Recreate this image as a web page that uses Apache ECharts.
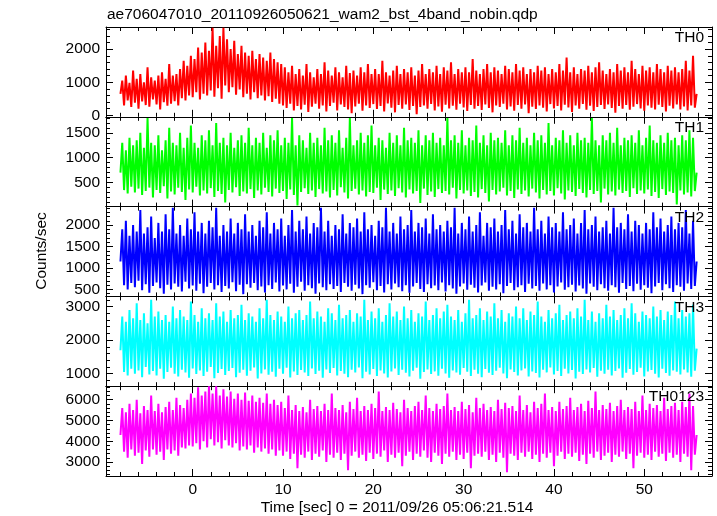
<!DOCTYPE html>
<html>
<head>
<meta charset="utf-8">
<script src="https://cdn.jsdelivr.net/npm/echarts@6/dist/echarts.min.js"></script>
<style>
html,body{margin:0;padding:0;background:#fff;}
#chart{width:717px;height:516px;}
</style>
</head>
<body>
<div id="chart"></div>
<script>
// ---- data ----
const TITLE = 'ae706047010_20110926050621_wam2_bst_4band_nobin.qdp';
const X_NAME = 'Time [sec] 0 = 2011/09/26 05:06:21.514';
const Y_NAME = 'Counts/sec';
const PANEL_NAMES = ['TH0', 'TH1', 'TH2', 'TH3', 'TH0123'];
const T_START = -8.0;   // first sample time [s]
const T_STEP = 0.2;     // sample spacing [s]

const TH0 = [
650,1050,300,1200,450,980,250,1350,380,1100,
200,1250,420,1000,310,1450,260,1150,480,1050,
330,1200,180,1300,400,1100,290,1550,350,1200,
430,1250,300,1400,520,1650,450,1500,600,1800,
550,1700,700,2050,480,1900,650,2200,600,1950,
750,2650,560,2100,820,2400,500,2650,900,2300,
700,2000,850,2250,620,1850,780,2100,550,1900,
650,1800,480,1950,700,1700,520,1850,600,1750,
450,1650,580,1900,400,1700,500,1600,350,1550,
300,1450,220,1300,350,1500,150,1250,280,1400,
180,1200,320,1550,100,1300,260,1150,350,1400,
200,1250,300,1600,120,1350,280,1200,380,1450,
150,1300,330,1150,250,1500,180,1280,60,1350,
270,1200,350,1450,140,1300,300,1550,220,1250,
340,1400,190,1250,280,1650,120,1300,360,1200,
230,1350,90,1500,310,1250,200,1400,330,1300,
160,1450,280,1200,30,1350,250,1550,300,1250,
200,1400,340,1300,150,1500,270,1250,110,1450,
320,1350,210,1600,290,1250,170,1400,350,1300,
240,1450,130,1300,310,1700,200,1350,280,1250,
160,1400,330,1550,220,1300,90,1450,300,1350,
250,1250,350,1500,180,1400,270,1300,140,1550,
310,1350,200,1450,330,1250,60,1400,260,1300,
190,1500,300,1350,230,1450,120,1250,340,1400,
210,1300,280,1550,150,1350,320,1750,240,1300,
100,1450,300,1250,200,1400,340,1350,170,1500,
290,1300,130,1450,250,1600,310,1350,190,1250,
330,1400,220,1300,80,1550,280,1350,200,1450,
310,1300,170,1650,260,1400,340,1250,210,1500,
140,1350,300,1450,230,1300,180,1550,320,1400,
250,1300,120,1500,290,1350,210,1450,330,1300,
180,1400,270,1650,150,1350,300,1800,230,650
];
const TH1 = [
700,1300,350,1150,280,1400,420,1250,300,1350,
380,1500,250,1200,330,1800,400,1300,200,1250,
350,1450,290,1150,430,1350,180,1600,320,1300,
260,1250,400,1500,310,1200,150,1400,360,1650,
300,1300,420,1200,240,1450,340,1350,280,1550,
390,1250,210,1700,330,1300,270,1400,100,1250,
350,1500,300,1200,410,1350,230,1450,320,1300,
280,1600,370,1250,190,1400,340,1300,260,1500,
400,1200,310,1450,220,1350,380,1550,290,1250,
330,1400,170,1300,360,1800,250,1250,40,1450,
310,1350,390,1200,270,1500,340,1300,210,1400,
370,1250,280,1600,320,1350,200,1450,350,1300,
240,1550,410,1200,300,1400,180,1800,330,1250,
380,1350,260,1500,340,1300,220,1450,310,1650,
290,1250,400,1400,150,1350,360,1200,270,1500,
340,1300,230,1450,390,1250,300,1600,200,1350,
360,1400,280,1300,330,1550,90,1250,380,1450,
250,1350,320,1500,210,1300,370,1400,290,1250,
330,1800,260,1350,400,1450,180,1300,350,1550,
280,1250,340,1400,230,1350,310,1650,200,1300,
370,1450,290,1250,120,1500,350,1350,260,1400,
320,1300,400,1550,240,1250,330,1450,190,1350,
360,1600,270,1300,340,1400,220,1250,380,1500,
300,1350,180,1450,350,1300,260,1700,330,1250,
240,1400,390,1350,280,1550,160,1300,340,1450,
310,1250,230,1500,370,1350,290,1400,200,1300,
350,1800,270,1350,330,1250,100,1450,380,1350,
260,1500,320,1300,240,1600,360,1250,290,1400,
330,1350,210,1450,390,1300,270,1550,340,1250,
280,1400,360,1650,230,1350,310,1300,190,1450,
370,1300,250,1500,320,1350,290,1400,60,1250,
340,1450,260,1350,300,1550,220,1400,330,700
];
const TH2 = [
1150,1900,600,2100,500,1750,650,2000,550,1850,
700,2350,480,1800,620,1950,420,2200,580,1700,
660,2050,530,1850,400,2250,610,1900,500,2400,
640,1800,560,2000,450,1750,680,2150,520,1900,
590,2300,470,1850,630,2050,410,1800,560,2100,
650,1950,500,2400,600,1750,440,2000,580,1850,
520,2150,670,1800,460,2050,610,1900,390,2250,
620,1850,540,2000,650,1750,480,2100,570,1950,
430,2300,600,1800,510,2050,660,1900,450,2150,
590,1750,500,2000,630,2350,420,1850,560,2100,
680,1900,470,2200,600,1800,530,2050,400,1950,
640,2400,550,1850,480,2100,620,1750,510,2000,
580,1900,440,2250,650,1800,560,2050,470,1950,
610,2150,520,1850,390,2300,600,1900,540,2000,
670,1750,480,2100,580,1950,430,2400,620,1850,
500,2050,640,1800,550,2200,460,1900,600,2000,
420,2350,570,1850,650,2050,510,1950,440,2150,
620,1800,530,2250,590,1900,480,2000,660,1850,
450,2100,600,1950,520,2400,400,1800,570,2050,
640,1900,490,2200,610,1850,540,2000,430,2300,
590,1750,660,2050,470,1950,560,2150,500,1850,
620,2000,410,2350,580,1900,650,2100,480,1800,
550,2250,600,1950,440,2050,630,1850,520,2400,
580,1900,470,2100,640,1800,500,2200,600,1950,
430,2050,570,1850,660,2300,490,1900,550,2000,
610,2150,450,1800,590,2050,520,2350,400,1900,
640,2000,560,2200,480,1850,620,1950,530,2100,
470,1800,600,2400,550,1950,420,2050,650,1900,
510,2250,580,1850,460,2100,630,2000,490,1800,
600,2050,540,1900,410,2300,570,1950,650,2150,
480,1850,620,2000,530,2200,440,1900,600,2050,
560,1950,470,2350,640,1800,510,2100,580,1150
];
const TH3 = [
1700,2700,1050,2550,950,2900,1150,2650,1000,3100,
1100,2600,900,2800,1200,2500,980,3200,1080,2700,
950,2850,1150,2600,850,2750,1050,2550,1180,3000,
1000,2650,920,2900,1120,2700,1040,2600,880,3150,
1160,2750,990,2550,1100,2950,930,2650,1060,2800,
1200,2600,870,3100,1020,2700,1140,2850,960,2550,
1080,2900,1170,2650,900,2750,1030,3050,1120,2600,
940,2800,1090,2700,1190,2550,860,2950,1010,2650,
1130,3200,970,2750,1060,2600,910,2850,1150,2700,
1000,2550,1180,3000,890,2650,1070,2800,960,2900,
1110,2600,1040,2750,930,3150,1160,2650,990,2850,
1090,2700,880,2550,1130,2950,1020,2800,1170,2600,
950,3050,1080,2650,1000,2750,900,2900,1120,2550,
1040,2800,1190,2700,870,3200,1060,2600,980,2850,
1140,2650,930,2950,1100,2550,1010,2750,890,3100,
1070,2700,1160,2850,960,2600,1120,3000,1030,2650,
920,2900,1090,2550,1180,2800,850,2700,1050,3150,
1130,2600,990,2750,1070,2950,940,2650,1150,2850,
1010,3050,880,2700,1100,2600,1040,2900,970,2550,
1170,2800,1060,3200,930,2650,1120,2750,1000,2950,
900,2600,1140,2850,1030,2700,960,3100,1090,2650,
1180,2900,1010,2550,870,2800,1130,2700,1050,3000,
950,2650,1100,2950,1160,2600,920,2850,1070,2750,
1020,3150,890,2700,1120,2550,1040,2900,1190,2650,
980,2800,1080,3050,930,2600,1150,2750,1010,2850,
1110,2650,860,2950,1060,2700,990,3200,1130,2600,
1040,2850,1170,2550,910,2800,1090,2650,1000,3050,
1120,2700,950,2900,1080,2600,1160,2750,880,2950,
1030,2650,1140,3100,970,2800,1050,2550,1180,2850,
920,2750,1070,2650,1110,3000,1000,2700,890,2900,
1150,2600,1020,2850,940,2750,1100,3150,1060,2650,
980,2900,1130,2700,1040,2800,910,3050,1090,1750
];
const TH0123 = [
4300,5600,3500,5400,3200,5800,3600,5500,3300,6000,
3450,5350,2900,5700,3550,5500,3250,6200,3600,5450,
3350,5800,3500,5400,3100,5650,3600,5900,3400,5500,
3550,6100,3300,5750,3700,5600,3650,6000,3800,6300,
3750,6100,3900,6600,3600,6200,4000,6400,3700,6650,
4100,6300,3800,6650,3950,6200,3650,6500,4050,6150,
3800,6400,3700,6050,3900,6300,3550,6000,3750,6350,
3600,5950,3800,6200,3450,5900,3700,6100,3500,5850,
3650,6300,3400,5800,3600,6000,3300,5750,3550,5900,
3300,5600,3500,6200,3150,5500,3400,5750,2700,5450,
3350,5650,3200,5400,3500,6000,3100,5550,3400,5700,
3250,5450,3550,5800,3000,5500,3350,6300,3200,5600,
3450,5500,3100,5750,3400,5400,2600,5900,3300,5550,
3500,6100,3200,5450,3350,5700,3050,5500,3450,5800,
3150,5600,3400,6400,3250,5450,3550,5650,3000,5500,
3350,5850,3200,5550,3450,5400,2800,6000,3300,5600,
3500,5450,3100,5700,3400,5900,3250,5500,3550,6200,
3200,5600,3000,5450,3450,5800,3300,5550,2900,5700,
3400,6300,3250,5500,3500,5650,3100,5450,3350,5900,
3150,5550,3450,5750,2700,5400,3300,6100,3400,5600,
3250,5800,3500,5500,3100,5650,3350,5450,3000,6000,
3450,5550,3200,5850,2500,5600,3400,5700,3300,5450,
3100,6200,3450,5500,3250,5750,3500,5400,3150,5900,
3350,5600,3000,5800,3400,6300,3200,5500,3450,5650,
2800,5450,3300,5900,3500,5550,3150,5700,3400,6100,
3250,5500,3450,5650,3050,5800,3350,5450,2900,5950,
3400,5600,3200,6400,3500,5500,3100,5750,3300,5550,
3450,5850,3000,5450,3350,5700,3250,6000,3500,5500,
3150,5650,3400,5550,2700,5900,3300,5450,3450,6200,
3200,5500,3350,5800,3100,5600,3500,5750,3250,5450,
3400,6100,3050,5550,3450,5700,3200,5850,3350,5500,
3000,5900,3400,5650,3250,6300,2600,5700,3350,4300
];
const SERIES_VALUES = [TH0, TH1, TH2, TH3, TH0123];
const COLORS = ['#ff0000', '#00ff00', '#0000ff', '#00ffff', '#ff00ff'];

// axis ranges and ticks
const X_MIN = -9.6, X_MAX = 57.5;
const X_MAJOR = [0, 10, 20, 30, 40, 50];
const X_MINOR_STEP = 2;
const Y_MIN = [-45, 18, 337, 629, 2323];
const Y_MAX = [2670, 1823, 2430, 3303, 6653];
const Y_MAJOR = [[0, 1000, 2000], [500, 1000, 1500], [500, 1000, 1500, 2000], [1000, 2000, 3000], [3000, 4000, 5000, 6000]];
const Y_MINOR_STEP = [200, 100, 100, 200, 200];

// ---- layout ----
const FONT = 'Liberation Sans, Arial, Helvetica, sans-serif';
const FS = 15.5;
const LEFT = 106, PW = 606, TOP0 = 27, PH = 89.8;
const MAJ_LEN = 7, MIN_LEN = 4;
const AX = {color: '#000', width: 1};
const plain = v => String(v);

function minorList(min, max, step, majors) {
  const out = [];
  for (let v = Math.ceil(min / step) * step; v <= max; v += step) {
    if (!majors.includes(v)) out.push(v);
  }
  return out;
}
const X_MINOR = minorList(X_MIN, X_MAX, X_MINOR_STEP, X_MAJOR);

const grid = [], xAxis = [], yAxis = [], series = [], graphic = [];
for (let k = 0; k < 5; k++) {
  const top = TOP0 + k * PH;
  grid.push({left: LEFT, top: top, width: PW, height: PH, containLabel: false});
  const xBase = {gridIndex: k, type: 'value', min: X_MIN, max: X_MAX, splitLine: {show: false}};
  const xi = xAxis.length;
  xAxis.push(Object.assign({}, xBase, {
    position: 'bottom', axisLine: {show: true, onZero: false, lineStyle: AX},
    axisTick: {show: true, inside: true, length: MAJ_LEN, customValues: X_MAJOR, lineStyle: AX},
    axisLabel: {show: k === 4, customValues: X_MAJOR, formatter: plain, color: '#000', fontFamily: FONT, fontSize: FS, margin: 6}
  }));
  xAxis.push(Object.assign({}, xBase, {
    position: 'bottom', axisLine: {show: false, onZero: false},
    axisTick: {show: true, inside: true, length: MIN_LEN, customValues: X_MINOR, lineStyle: AX},
    axisLabel: {show: false}
  }));
  xAxis.push(Object.assign({}, xBase, {
    position: 'top', axisLine: {show: true, onZero: false, lineStyle: AX},
    axisTick: {show: true, inside: true, length: MAJ_LEN, customValues: X_MAJOR, lineStyle: AX},
    axisLabel: {show: false}
  }));
  xAxis.push(Object.assign({}, xBase, {
    position: 'top', axisLine: {show: false, onZero: false},
    axisTick: {show: true, inside: true, length: MIN_LEN, customValues: X_MINOR, lineStyle: AX},
    axisLabel: {show: false}
  }));

  const yMinor = minorList(Y_MIN[k], Y_MAX[k], Y_MINOR_STEP[k], Y_MAJOR[k]);
  const yBase = {gridIndex: k, type: 'value', min: Y_MIN[k], max: Y_MAX[k], splitLine: {show: false}};
  const yi = yAxis.length;
  yAxis.push(Object.assign({}, yBase, {
    position: 'left', axisLine: {show: true, onZero: false, lineStyle: AX},
    axisTick: {show: true, inside: true, length: MAJ_LEN, customValues: Y_MAJOR[k], lineStyle: AX},
    axisLabel: {show: true, customValues: Y_MAJOR[k], formatter: plain, color: '#000', fontFamily: FONT, fontSize: FS, margin: 6}
  }));
  yAxis.push(Object.assign({}, yBase, {
    position: 'left', axisLine: {show: false, onZero: false},
    axisTick: {show: true, inside: true, length: MIN_LEN, customValues: yMinor, lineStyle: AX},
    axisLabel: {show: false}
  }));
  yAxis.push(Object.assign({}, yBase, {
    position: 'right', axisLine: {show: true, onZero: false, lineStyle: AX},
    axisTick: {show: true, inside: true, length: MAJ_LEN, customValues: Y_MAJOR[k], lineStyle: AX},
    axisLabel: {show: false}
  }));
  yAxis.push(Object.assign({}, yBase, {
    position: 'right', axisLine: {show: false, onZero: false},
    axisTick: {show: true, inside: true, length: MIN_LEN, customValues: yMinor, lineStyle: AX},
    axisLabel: {show: false}
  }));

  const vals = SERIES_VALUES[k];
  series.push({
    type: 'line', name: PANEL_NAMES[k], xAxisIndex: xi, yAxisIndex: yi,
    data: vals.map((v, i) => [T_START + T_STEP * i, v]),
    showSymbol: false, symbol: 'none', clip: true, sampling: null,
    lineStyle: {color: COLORS[k], width: 2.0, join: 'miter', miterLimit: 1}, itemStyle: {color: COLORS[k]},
    animation: false, silent: true, z: 1
  });

  graphic.push({
    type: 'text', x: LEFT + PW - 8, y: top + 11,
    style: {text: PANEL_NAMES[k], fill: '#000', font: FS + 'px ' + FONT, align: 'right', verticalAlign: 'middle'},
    z: 100
  });
}

graphic.push({
  type: 'text', x: LEFT + 1, y: 15,
  style: {text: TITLE, fill: '#000', font: FS + 'px ' + FONT, align: 'left', verticalAlign: 'middle'}
});
graphic.push({
  type: 'text', x: 397, y: 508,
  style: {text: X_NAME, fill: '#000', font: FS + 'px ' + FONT, align: 'center', verticalAlign: 'middle'}
});
graphic.push({
  type: 'text', x: 41.5, y: 251, rotation: Math.PI / 2,
  style: {text: Y_NAME, fill: '#000', font: FS + 'px ' + FONT, align: 'center', verticalAlign: 'middle'}
});

const chart = echarts.init(document.getElementById('chart'), null, {renderer: 'canvas'});
chart.setOption({
  animation: false,
  backgroundColor: '#fff',
  grid: grid, xAxis: xAxis, yAxis: yAxis, series: series, graphic: graphic
});
</script>
</body>
</html>
